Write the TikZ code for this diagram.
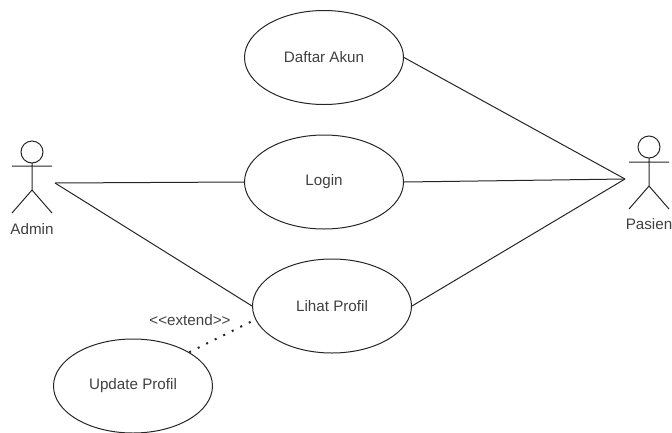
\documentclass[tikz,border=0pt]{standalone}
\usepackage{fontspec}
\setmainfont{Liberation Sans}
\usetikzlibrary{shapes.geometric}
\definecolor{inkc}{HTML}{262626}
\definecolor{textc}{HTML}{404040}
\tikzset{
  x=1pt,y=-1pt,
  labelfont/.style={text=textc,font=\fontsize{15.2}{17}\selectfont},
  usecase/.style={draw=inkc,line width=1pt,ellipse,minimum width=159pt,minimum height=94pt,inner sep=0pt,labelfont},
  actorlabel/.style={inner sep=0pt,labelfont},
  stick/.style={draw=inkc,line width=1pt},
  assoc/.style={draw=inkc,line width=1pt},
  extendline/.style={draw=inkc,line width=2pt,dash pattern=on 2pt off 7.5pt},
}
\begin{document}
\begin{tikzpicture}
\useasboundingbox (0,0) rectangle (672,432);
\node[usecase] (daftar) at (324,57.5) {Daftar Akun};
\node[usecase] (login) at (324,182) {Login};
\node[usecase] (lihat) at (332,306) {Lihat Profil};
\node[usecase] (update) at (133,386) {Update Profil};
% Admin actor
\coordinate (adminport) at (55,183);
\draw[stick] (32,152) circle (11);
\draw[stick] (32,163) -- (32,190) (12,166) -- (52,166) (12,213) -- (32,190) -- (52,213);
\node[actorlabel] (adminlabel) at (32,229) {Admin};
% Pasien actor
\coordinate (pasienport) at (625,179);
\draw[stick] (649,147) circle (11);
\draw[stick] (649,158) -- (649,186) (629,162) -- (669,162) (629,209) -- (649,186) -- (669,209);
\node[actorlabel] (pasienlabel) at (649,224) {Pasien};
% connectors
\draw[assoc] (adminport) -- (login.west);
\draw[assoc] (adminport) -- (lihat.west);
\draw[assoc] (daftar.east) -- (pasienport);
\draw[assoc] (login.east) -- (pasienport);
\draw[assoc] (lihat.east) -- (pasienport);
\draw[extendline] (update.31) -- (lihat.190);
\node[inner sep=0pt,labelfont] (extlabel) at (190,320.5) {{<}{<}extend{>}{>}};
\end{tikzpicture}
\end{document}
